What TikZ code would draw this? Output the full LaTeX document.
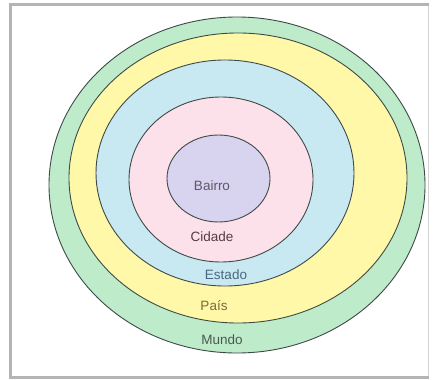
\documentclass[tikz,border=0pt]{standalone}
\usepackage{fontspec}
\setmainfont{Liberation Sans}
\definecolor{cMundo}{HTML}{BEEBCA}
\definecolor{cPais}{HTML}{FFF8A8}
\definecolor{cEstado}{HTML}{C8E8F2}
\definecolor{cCidade}{HTML}{FDE1EA}
\definecolor{cBairro}{HTML}{D8D3EF}
\definecolor{edge}{HTML}{3E4A48}
\definecolor{frame}{HTML}{B4B4B4}
\begin{document}
\begin{tikzpicture}[x=1pt,y=-1pt,
  ring/.style={draw=edge,line width=0.9pt},
  lbl/.style={font=\fontsize{13.5}{15}\selectfont,inner sep=0pt}]
\useasboundingbox (0,0) rectangle (435,379);
\fill[white] (0,0) rectangle (435,379);
% frame
\draw[frame!60,line width=0.8pt] (428.5,5) -- (428.5,377);
\draw[frame,line width=3pt] (429,5) -- (10,5) -- (10,377) -- (429,377);
% rings
\draw[ring,fill=cMundo] (237,185) ellipse [x radius=188,y radius=168];
\draw[ring,fill=cPais] (238,178) ellipse [x radius=169,y radius=145];
\draw[ring,fill=cEstado] (225,173) ellipse [x radius=129,y radius=113];
\draw[ring,fill=cCidade] (221,179.5) ellipse [x radius=92,y radius=82.5];
\draw[ring,fill=cBairro] (218.5,178.5) ellipse [x radius=51.5,y radius=43.5];
% labels
\node[lbl,text={rgb,255:red,96;green,86;blue,100}] (bairro) at (212,186) {Bairro};
\node[lbl,text={rgb,255:red,90;green,56;blue,72}] (cidade) at (212,237) {Cidade};
\node[lbl,text={rgb,255:red,72;green,104;blue,128}] (estado) at (226,275) {Estado};
\node[lbl,text={rgb,255:red,122;green,106;blue,58}] (pais) at (214,306) {País};
\node[lbl,text={rgb,255:red,74;green,88;blue,80}] (mundo) at (222,340) {Mundo};
\end{tikzpicture}
\end{document}
